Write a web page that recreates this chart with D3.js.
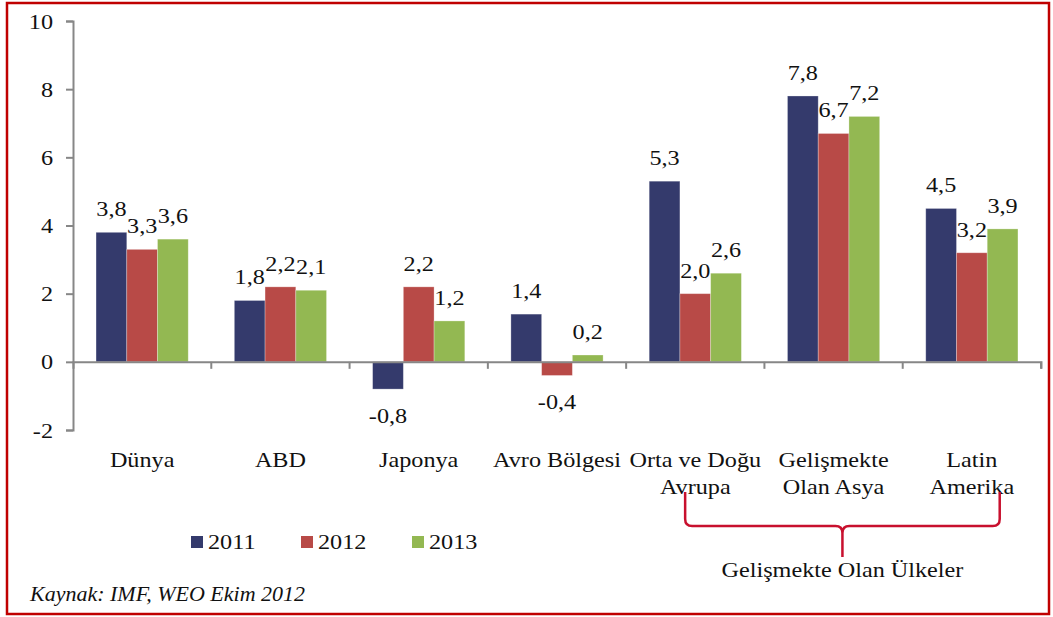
<!DOCTYPE html>
<meta charset="utf-8">
<style>
  body { margin: 0; background: #fff; }
</style>
<script src="https://d3js.org/d3.v7.min.js"></script>
<div id="chart"></div>
<script>
// data
var categories = ["Dünya", "ABD", "Japonya", "Avro Bölgesi", "Orta ve Doğu Avrupa", "Gelişmekte Olan Asya", "Latin Amerika"];
var categoryLines = [["Dünya"], ["ABD"], ["Japonya"], ["Avro Bölgesi"], ["Orta ve Doğu", "Avrupa"], ["Gelişmekte", "Olan Asya"], ["Latin", "Amerika"]];
var years = ["2011", "2012", "2013"];
var values2011 = [3.8, 1.8, -0.8, 1.4, 5.3, 7.8, 4.5];
var values2012 = [3.3, 2.2, 2.2, -0.4, 2.0, 6.7, 3.2];
var values2013 = [3.6, 2.1, 1.2, 0.2, 2.6, 7.2, 3.9];
var yTicks = [-2, 0, 2, 4, 6, 8, 10];
var groupLabel = "Gelişmekte Olan Ülkeler";
var source = "Kaynak: IMF, WEO Ekim 2012";

var series = [values2011, values2012, values2013];
var colors = ["#343a6c", "#b84a47", "#93b852"];

var W = 1053, H = 617;
var FONT = "'Liberation Serif', serif";
var fs = 22, sx = 1.1;   // text in the picture looks a bit stretched horizontally

var svg = d3.select("#chart").append("svg")
  .attr("width", W).attr("height", H);

// red frame
svg.append("rect")
  .attr("x", 7).attr("y", 3).attr("width", 1042).attr("height", 611)
  .attr("fill", "#fff").attr("stroke", "#c00000").attr("stroke-width", 2.5);

var x = d3.scaleBand().domain(categories).range([73, 1041]).paddingInner(0).paddingOuter(0);
var xs = d3.scaleBand().domain(years).range([0, x.bandwidth()]).paddingInner(0).paddingOuter(0.75);
var y = d3.scaleLinear().domain([-2, 10]).range([430, 21]);

var fmt = function(v) { return d3.format(".1f")(v).replace(".", ",").replace("\u2212", "-"); };

// place a stretched text
function label(g, tx, ty, str, anchor, size, italic) {
  return g.append("text")
    .attr("transform", "translate(" + tx + "," + ty + ") scale(" + sx + ",1)")
    .attr("text-anchor", anchor || "middle")
    .style("font-family", FONT)
    .style("font-size", (size || fs) + "px")
    .style("font-style", italic ? "italic" : null)
    .attr("fill", "#111")
    .text(str);
}

// bars
var rows = [];
categories.forEach(function(c, i) {
  years.forEach(function(yr, j) {
    rows.push({cat: c, year: yr, value: series[j][i], color: colors[j]});
  });
});

svg.append("g").selectAll("rect")
  .data(rows).enter().append("rect")
    .attr("x", function(d) { return x(d.cat) + xs(d.year); })
    .attr("y", function(d) { return y(Math.max(0, d.value)); })
    .attr("width", xs.bandwidth())
    .attr("height", function(d) { return Math.abs(y(d.value) - y(0)); })
    .attr("fill", function(d) { return d.color; })
    .attr("stroke", "rgba(255,255,255,0.35)")
    .attr("stroke-width", 0.8);

// y axis
var yAxis = svg.append("g")
  .attr("transform", "translate(73,0)")
  .call(d3.axisLeft(y).tickValues(yTicks).tickSize(7).tickPadding(13)
    .tickFormat(function(d) { return String(d); }));
yAxis.select(".domain").attr("stroke", "#878787").attr("stroke-width", 2);
yAxis.selectAll(".tick line").attr("stroke", "#878787").attr("stroke-width", 2);
yAxis.selectAll(".tick text")
  .attr("x", -20 / sx)
  .attr("transform", "scale(" + sx + ",1)")
  .style("font-family", FONT)
  .style("font-size", fs + "px")
  .attr("fill", "#111");

// category axis at zero
var xAxis = svg.append("g")
  .attr("transform", "translate(0," + y(0) + ")")
  .call(d3.axisBottom(x).tickSize(7).tickSizeOuter(7).tickFormat(""));
xAxis.select(".domain").attr("stroke", "#878787").attr("stroke-width", 2);
xAxis.selectAll(".tick line")
  .attr("stroke", "#878787").attr("stroke-width", 2)
  .attr("transform", "translate(" + (x.bandwidth() / 2) + ",0)");

// category labels
categories.forEach(function(c, i) {
  var cx = x(c) + x.bandwidth() / 2;
  categoryLines[i].forEach(function(line, k) {
    label(svg, cx, 467 + k * 27, line);
  });
});

// value labels
var vl = svg.append("g");
rows.forEach(function(d) {
  var cx = x(d.cat) + xs(d.year) + xs.bandwidth() / 2;
  var ty = d.value >= 0 ? y(d.value) - 16 : y(d.value) + 34;
  label(vl, cx, ty, fmt(d.value));
});

// legend
var lg = svg.append("g");
var legendX = [191, 301, 412];
years.forEach(function(yr, j) {
  lg.append("rect")
    .attr("x", legendX[j]).attr("y", 536).attr("width", 12).attr("height", 12)
    .attr("fill", colors[j]);
  label(lg, legendX[j] + 17, 549, yr, "start");
});

// brace for developing countries
var bl = x(categories[4]) + 59, br = x(categories[6]) + 97, bc = (bl + br) / 2;
var brace = d3.path();
brace.moveTo(bl, 492); brace.lineTo(bl, 519);
brace.quadraticCurveTo(bl, 526, bl + 7, 526); brace.lineTo(bc - 7, 526);
brace.quadraticCurveTo(bc, 526, bc, 533); brace.lineTo(bc, 557);
brace.moveTo(br, 492); brace.lineTo(br, 519);
brace.quadraticCurveTo(br, 526, br - 7, 526); brace.lineTo(bc + 7, 526);
brace.quadraticCurveTo(bc, 526, bc, 533);
svg.append("path")
  .attr("d", brace.toString())
  .attr("fill", "none").attr("stroke", "#c8102e").attr("stroke-width", 2.5);

label(svg, bc, 577, groupLabel);

// source note
label(svg, 30, 601, source, "start", 20, true);
</script>
